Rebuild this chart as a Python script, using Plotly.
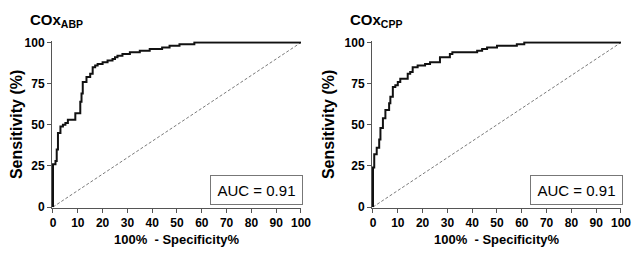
import plotly.graph_objects as go

# ROC curve points: (1 - specificity %, sensitivity %)
abp_fpr = [0, 0, 1, 1.5, 2, 3, 4, 5, 6, 8, 9, 10.5, 11, 11.5, 12, 13.5, 15, 16, 17, 18, 20, 22, 24, 25, 26, 28, 31, 35, 39, 44, 47, 51, 57, 100]
abp_tpr = [0, 26, 28, 35, 45, 49, 50, 51, 53, 53, 57, 57, 64, 69, 76, 79, 81, 85, 86, 87, 88, 89, 90, 91, 92, 93, 94, 95, 96, 97, 98, 99, 100, 100]

cpp_fpr = [0, 0, 0.5, 1.5, 2.5, 3, 4, 5, 6.5, 7, 8, 9, 10, 11, 13, 14, 15, 16, 18, 21, 23, 27, 31, 32, 40, 42, 44, 46, 50, 58, 61, 100]
cpp_tpr = [0, 24, 32, 36, 41, 48, 54, 59, 63, 67, 73, 74, 76, 78, 78, 81, 82, 85, 86, 87, 88, 91, 93, 94, 94, 95, 96, 97, 98, 99, 100, 100]

ref_line = [0, 100]
titles = ["COx<sub>ABP</sub>", "COx<sub>CPP</sub>"]
auc_labels = ["AUC = 0.91", "AUC = 0.91"]
x_ticks = list(range(0, 101, 10))
y_ticks = [0, 25, 50, 75, 100]

OFF = 8  # page body margin
W, H = 643 - OFF, 256 - OFF
FONT = "Liberation Sans, Arial, sans-serif"

fig = go.Figure()

panels = [
    (abp_fpr, abp_tpr, "x", "y"),
    (cpp_fpr, cpp_tpr, "x2", "y2"),
]

for fx, ty, xa, ya in panels:
    fig.add_trace(go.Scatter(x=ref_line, y=ref_line, mode="lines", xaxis=xa, yaxis=ya,
                             line=dict(color="#7a7a7a", width=1, dash="3px,2px"),
                             showlegend=False, hoverinfo="skip"))
    fig.add_trace(go.Scatter(x=fx, y=ty, mode="lines", xaxis=xa, yaxis=ya,
                             line=dict(color="#111111", width=2, shape="hv"),
                             showlegend=False))

# screen-pixel positions measured on the reference
ypx_top, ypx_bot = 42.5 - OFF, 207 - OFF
plot_w = 248
xr = [-0.4, 100]
yr = [-0.4, 100.8]

def xdom(x0px):
    x0px -= OFF
    ppu = plot_w / 100.0
    return [(x0px + xr[0] * ppu) / W, (x0px + xr[1] * ppu) / W]

ppu_y = (ypx_bot - ypx_top) / 100.0
ybot_px = ypx_bot - yr[0] * ppu_y
ytop_px = ypx_bot - yr[1] * ppu_y
ydom = [(H - ybot_px) / H, (H - ytop_px) / H]

axis_common = dict(
    showgrid=False, zeroline=False, showline=True, linecolor="#555555", linewidth=1,
    ticks="outside", ticklen=4, tickcolor="#555555", tickwidth=1, automargin=False,
    tickfont=dict(family=FONT, size=12, color="#000000", weight="bold"),
)
xtitle = dict(text="100%  - Specificity%", font=dict(family=FONT, size=13, color="#000", weight="bold"), standoff=5)
ytitle = dict(text="Sensitivity (%)", font=dict(family=FONT, size=16, color="#000", weight="bold"), standoff=5)

fig.update_layout(
    width=W, height=H, margin=dict(l=0, r=0, t=0, b=0, autoexpand=False),
    plot_bgcolor="white", paper_bgcolor="white",
    xaxis=dict(domain=xdom(53), range=xr, tickvals=x_ticks, anchor="y", title=xtitle, **axis_common),
    yaxis=dict(domain=ydom, range=yr, tickvals=y_ticks, anchor="x", title=ytitle, **axis_common),
    xaxis2=dict(domain=xdom(373), range=xr, tickvals=x_ticks, anchor="y2", title=xtitle, **axis_common),
    yaxis2=dict(domain=ydom, range=yr, tickvals=y_ticks, anchor="x2", title=ytitle, **axis_common),
)

annotations = []
for i, x0px in enumerate([53, 373]):
    annotations.append(dict(
        text="<b>" + titles[i] + "</b>", xref="paper", yref="paper",
        x=(x0px - 25 - OFF) / W, y=(H - (9 - OFF)) / H, xanchor="left", yanchor="top",
        showarrow=False, font=dict(family=FONT, size=15, color="#000")))
    annotations.append(dict(
        text=auc_labels[i], xref="paper", yref="paper",
        x=(x0px + 203 - OFF) / W, y=(H - (190 - OFF)) / H, xanchor="center", yanchor="middle",
        showarrow=False, font=dict(family=FONT, size=15, color="#000"),
        bordercolor="#777777", borderwidth=1, borderpad=4, width=83, height=20,
        bgcolor="white"))
fig.update_layout(annotations=annotations)

fig.write_html("out.html")
